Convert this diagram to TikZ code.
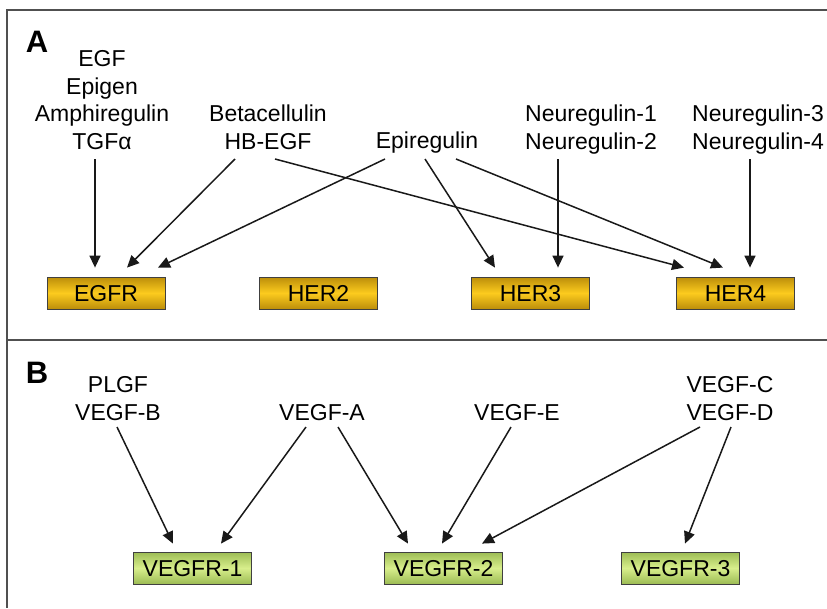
\documentclass[tikz,border=0pt]{standalone}
\usepackage{fontspec}
\setmainfont{Liberation Sans}
\usetikzlibrary{arrows.meta}
\definecolor{gold1}{HTML}{BC8E0A}
\definecolor{gold2}{HTML}{FCCB1E}
\definecolor{grn1}{HTML}{9CBC54}
\definecolor{grn2}{HTML}{D8EE8C}
\definecolor{framegray}{HTML}{505050}
\tikzset{
  lbl/.style={font=\fontsize{23}{27.5}\selectfont, align=center, inner sep=0pt, anchor=base, text depth=0pt},
  panel/.style={font=\fontsize{31}{31}\selectfont\bfseries, inner sep=0pt, anchor=base},
  rbox/.style={draw=black!75, line width=0.8pt, minimum width=118pt, minimum height=32pt, inner sep=0pt,
    text height=16.5pt, text depth=0pt, font=\fontsize{23}{27.5}\selectfont},
  erb/.style={rbox, top color=gold1, bottom color=gold1, middle color=gold2},
  vgf/.style={rbox, top color=grn1, bottom color=grn1, middle color=grn2},
  conn/.style={line width=1.5pt, draw=black!90, -{Triangle[length=12pt,width=11pt]}},
  frame/.style={line width=1.2pt, draw=framegray}
}
\begin{document}
\begin{tikzpicture}[x=1pt,y=-1pt]
\useasboundingbox (0,0) rectangle (827,608);
% frame
\coordinate (ftl) at (7,10);
\coordinate (ftr) at (827,10);
\coordinate (fbl) at (7,608);
\coordinate (dl) at (7,340);
\coordinate (dr) at (827,340);
\draw[frame] (ftr) -- (ftl) -- (fbl);
\draw[frame] (dl) -- (dr);

% Panel A
\node[panel] (pa) at (37,52) {A};
\node[lbl] (egf) at (102,149) {EGF\\Epigen\\Amphiregulin\\TGFα};
\node[lbl] (hb) at (268,149) {Betacellulin\\HB-EGF};
\node[lbl] (epi) at (427,148) {Epiregulin};
\node[lbl] (n12) at (591,149) {Neuregulin-1\\Neuregulin-2};
\node[lbl] (n34) at (758,149) {Neuregulin-3\\Neuregulin-4};

\node[erb] (egfr) at (106,293) {EGFR};
\node[erb] (her2) at (318.5,293) {HER2};
\node[erb] (her3) at (530.5,293) {HER3};
\node[erb] (her4) at (735.5,293) {HER4};

\draw[conn] ([xshift=-7pt,yshift=-10pt]egf.base) -- ([xshift=-11pt,yshift=9pt]egfr.north);
\draw[conn] ([xshift=-33pt,yshift=-10pt]hb.base) -- ([xshift=21pt,yshift=9pt]egfr.north);
\draw[conn] ([xshift=-42pt,yshift=-11pt]epi.base) -- ([xshift=52pt,yshift=9pt]egfr.north);
\draw[conn] ([xshift=7pt,yshift=-10pt]hb.base) -- ([xshift=-51.5pt,yshift=9pt]her4.north);
\draw[conn] ([xshift=-2pt,yshift=-11pt]epi.base) -- ([xshift=-35.5pt,yshift=9pt]her3.north);
\draw[conn] ([xshift=29pt,yshift=-11pt]epi.base) -- ([xshift=-12.5pt,yshift=9pt]her4.north);
\draw[conn] ([xshift=-33pt,yshift=-10pt]n12.base) -- ([xshift=27.5pt,yshift=9pt]her3.north);
\draw[conn] ([xshift=-8pt,yshift=-10pt]n34.base) -- ([xshift=14.5pt,yshift=9pt]her4.north);

% Panel B
\node[panel] (pb) at (37,383) {B};
\node[lbl] (plgf) at (118,420) {PLGF\\VEGF-B};
\node[lbl] (va) at (322,420) {VEGF-A};
\node[lbl] (ve) at (517,420) {VEGF-E};
\node[lbl] (vcd) at (730,420) {VEGF-C\\VEGF-D};

\node[vgf] (r1) at (192.5,568) {VEGFR-1};
\node[vgf] (r2) at (443.5,568) {VEGFR-2};
\node[vgf] (r3) at (680.5,568) {VEGFR-3};

\draw[conn] ([xshift=-1pt,yshift=-7pt]plgf.base) -- ([xshift=-19.5pt,yshift=8pt]r1.north);
\draw[conn] ([xshift=-16pt,yshift=-7pt]va.base) -- ([xshift=28.5pt,yshift=8pt]r1.north);
\draw[conn] ([xshift=16pt,yshift=-7pt]va.base) -- ([xshift=-35.5pt,yshift=8pt]r2.north);
\draw[conn] ([xshift=-6pt,yshift=-7pt]ve.base) -- ([xshift=-1.5pt,yshift=8pt]r2.north);
\draw[conn] ([xshift=-30pt,yshift=-7pt]vcd.base) -- ([xshift=38.5pt,yshift=8pt]r2.north);
\draw[conn] ([xshift=1pt,yshift=-7pt]vcd.base) -- ([xshift=4.5pt,yshift=8pt]r3.north);
\end{tikzpicture}
\end{document}
